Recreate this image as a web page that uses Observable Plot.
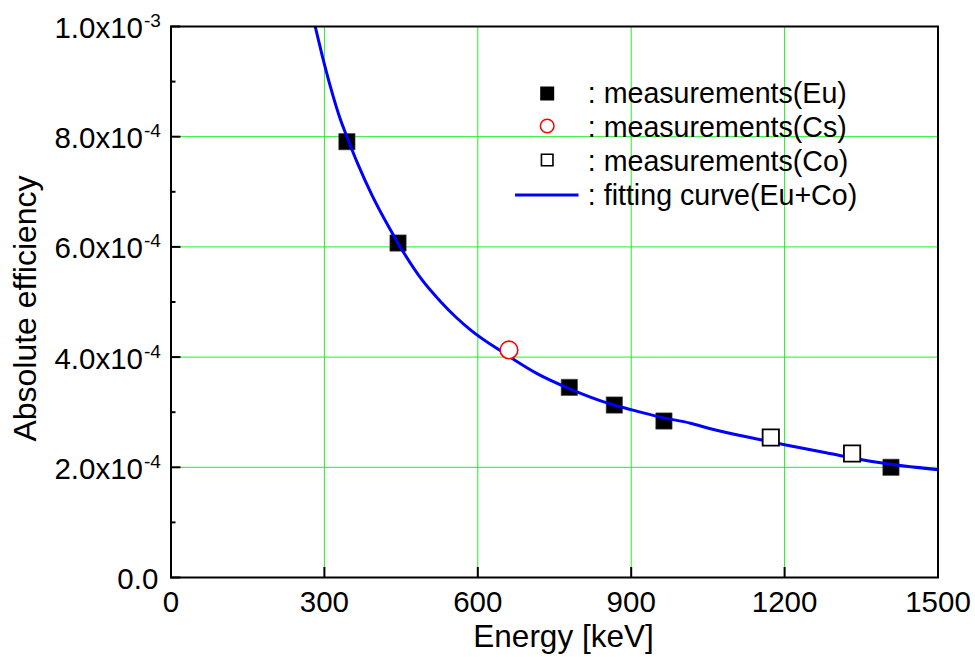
<!DOCTYPE html>
<html>
<head>
<meta charset="utf-8">
<script src="https://cdn.jsdelivr.net/npm/d3@7"></script>
<script src="https://cdn.jsdelivr.net/npm/@observablehq/plot@0.6"></script>
<style>
  html, body { margin: 0; padding: 0; background: #ffffff; }
  #chart svg { display: block; }
</style>
</head>
<body>
<div id="chart"></div>
<script>
// ---- Data ----
const euEnergy = [344, 444, 779, 867, 964, 1408];
const euEff    = [7.91e-4, 6.07e-4, 3.45e-4, 3.13e-4, 2.84e-4, 2.00e-4];

const csEnergy = [661];
const csEff    = [4.13e-4];

const coEnergy = [1173, 1332];
const coEff    = [2.54e-4, 2.25e-4];

const fitEnergy = [282, 295, 312, 331, 344, 367, 393, 426, 449, 491, 527, 559, 585, 650, 716, 781, 859, 898, 957, 1016, 1055, 1153, 1200, 1283, 1381, 1500];
const fitEff    = [1.0e-3, 9.50e-4, 8.90e-4, 8.32e-4, 8.00e-4, 7.47e-4, 6.94e-4, 6.36e-4, 5.99e-4, 5.40e-4, 5.01e-4, 4.71e-4, 4.50e-4, 4.08e-4, 3.70e-4, 3.42e-4, 3.15e-4, 3.05e-4, 2.91e-4, 2.80e-4, 2.70e-4, 2.50e-4, 2.41e-4, 2.26e-4, 2.09e-4, 1.955e-4];

const xTickValues = [0, 300, 600, 900, 1200, 1500];
const xGridValues = [300, 600, 900, 1200];
const yTickValues = [0, 2e-4, 4e-4, 6e-4, 8e-4, 1e-3];
const yTickMantissa = ["0.0", "2.0x10", "4.0x10", "6.0x10", "8.0x10", "1.0x10"];
const yTickExponent = ["", "-4", "-4", "-4", "-4", "-3"];
const yMinorValues = [1e-4, 3e-4, 5e-4, 7e-4, 9e-4];
const yGridValues = [2e-4, 4e-4, 6e-4, 8e-4];

const xTitle = "Energy [keV]";
const yTitle = "Absolute efficiency";
const legendLabels = [": measurements(Eu)", ": measurements(Cs)", ": measurements(Co)", ": fitting curve(Eu+Co)"];

// ---- Layout ----
const W = 975, H = 657;
const mL = 170.5, mR = 37.5, mT = 26, mB = 80;
const plotW = W - mL - mR, plotH = H - mT - mB;
const FONT = "'Liberation Sans', Arial, Helvetica, sans-serif";
const GREEN = "#22ee22";
const BLUE = "#0000ff";

const eu = euEnergy.map((e, i) => ({energy: e, eff: euEff[i]}));
const cs = csEnergy.map((e, i) => ({energy: e, eff: csEff[i]}));
const co = coEnergy.map((e, i) => ({energy: e, eff: coEff[i]}));
const fit = fitEnergy.map((e, i) => ({energy: e, eff: fitEff[i]}));
const yTicks = yTickValues.map((v, i) => ({v, m: yTickMantissa[i], e: yTickExponent[i]}));

// legend positions (pixel offsets from the frame's top-left corner)
const legSymX = 546.7 - mL;
const legTextX = 587.3 - mL;
const legRowsText = [102, 136, 170, 204].map(v => v - mT);
const legRowsSym = [93, 125.5, 159.5, 195].map(v => v - mT);

const legendLine = () => {
  const l = d3.create("svg:line")
    .attr("x1", 515).attr("x2", 578.5)
    .attr("y1", 195).attr("y2", 195)
    .attr("stroke", BLUE).attr("stroke-width", 3);
  return l.node();
};

const legendText = (i) => Plot.text(legendLabels, {
  filter: (d, j) => j === i, text: d => d,
  frameAnchor: "top-left", textAnchor: "start", lineAnchor: "bottom",
  dx: legTextX, dy: legRowsText[i], fontSize: 28.6, fill: "#000"
});

const chart = Plot.plot({
  width: W,
  height: H,
  marginLeft: mL,
  marginRight: mR,
  marginTop: mT,
  marginBottom: mB,
  style: {fontFamily: FONT, background: "#ffffff", color: "#000"},
  x: {domain: [0, 1500], axis: null},
  y: {domain: [0, 1e-3], axis: null},
  marks: [
    // grid
    Plot.ruleX(xGridValues, {x: d => d, stroke: GREEN, strokeWidth: 1}),
    Plot.ruleY(yGridValues, {y: d => d, stroke: GREEN, strokeWidth: 1}),
    // Eu measurements (under the curve)
    Plot.dot(eu, {x: "energy", y: "eff", symbol: "square", r: 9.2, fill: "#000", stroke: "#444", strokeWidth: 0.6}),
    // fitting curve
    Plot.line(fit, {x: "energy", y: "eff", stroke: BLUE, strokeWidth: 3, curve: "monotone-x", clip: true}),
    // Co measurements
    Plot.dot(co, {x: "energy", y: "eff", symbol: "square", r: 9.2, fill: "#fff", stroke: "#000", strokeWidth: 1.8}),
    // Cs measurement
    Plot.dot(cs, {x: "energy", y: "eff", symbol: "circle", r: 8.8, fill: "#fff", stroke: "#ff0000", strokeWidth: 1.6}),
    // frame
    Plot.frame({stroke: "#000", strokeWidth: 2}),
    // inward ticks
    Plot.tickY(yTickValues, {y: d => d, insetRight: plotW - 10, stroke: "#000", strokeWidth: 2}),
    Plot.tickY(yMinorValues, {y: d => d, insetRight: plotW - 5, stroke: "#000", strokeWidth: 2}),
    Plot.tickX(xTickValues, {x: d => d, insetTop: plotH - 10, stroke: "#000", strokeWidth: 2}),
    // y tick labels (mantissa + raised exponent)
    Plot.text(yTicks, {filter: d => d.e !== "", y: "v", text: "m", frameAnchor: "left", textAnchor: "end", lineAnchor: "bottom", dx: -28, dy: 11.5, fontSize: 29.5, fill: "#000"}),
    Plot.text(yTicks, {filter: d => d.e !== "", y: "v", text: "e", frameAnchor: "left", textAnchor: "start", lineAnchor: "bottom", dx: -27, dy: 0.5, fontSize: 19, fill: "#000"}),
    Plot.text(yTicks, {filter: d => d.e === "", y: "v", text: "m", frameAnchor: "left", textAnchor: "end", lineAnchor: "bottom", dx: -12.7, dy: 11.5, fontSize: 29.5, fill: "#000"}),
    // x tick labels
    Plot.text(xTickValues, {x: d => d, text: d => String(d), frameAnchor: "bottom", textAnchor: "middle", lineAnchor: "bottom", dy: 34.7, fontSize: 29.5, fill: "#000"}),
    // axis titles
    Plot.text([xTitle], {text: d => d, frameAnchor: "bottom", textAnchor: "middle", lineAnchor: "bottom", dx: 9, dy: 69, fontSize: 31.5, fill: "#000"}),
    Plot.text([yTitle], {text: d => d, frameAnchor: "left", textAnchor: "middle", rotate: -90, lineAnchor: "middle", dx: -145, dy: 6.5, fontSize: 32, fill: "#000"}),
    // legend symbols
    Plot.dot([0], {frameAnchor: "top-left", dx: legSymX, dy: legRowsSym[0], symbol: "square", r: 7.9, fill: "#000"}),
    Plot.dot([0], {frameAnchor: "top-left", dx: legSymX, dy: legRowsSym[1], symbol: "circle", r: 6.8, fill: "none", stroke: "#ff0000", strokeWidth: 1.5}),
    Plot.dot([0], {frameAnchor: "top-left", dx: legSymX, dy: legRowsSym[2], symbol: "square", r: 6.5, fill: "none", stroke: "#000", strokeWidth: 1.6}),
    legendLine,
    // legend labels
    legendText(0),
    legendText(1),
    legendText(2),
    legendText(3)
  ]
});

document.getElementById("chart").appendChild(chart);
</script>
</body>
</html>
